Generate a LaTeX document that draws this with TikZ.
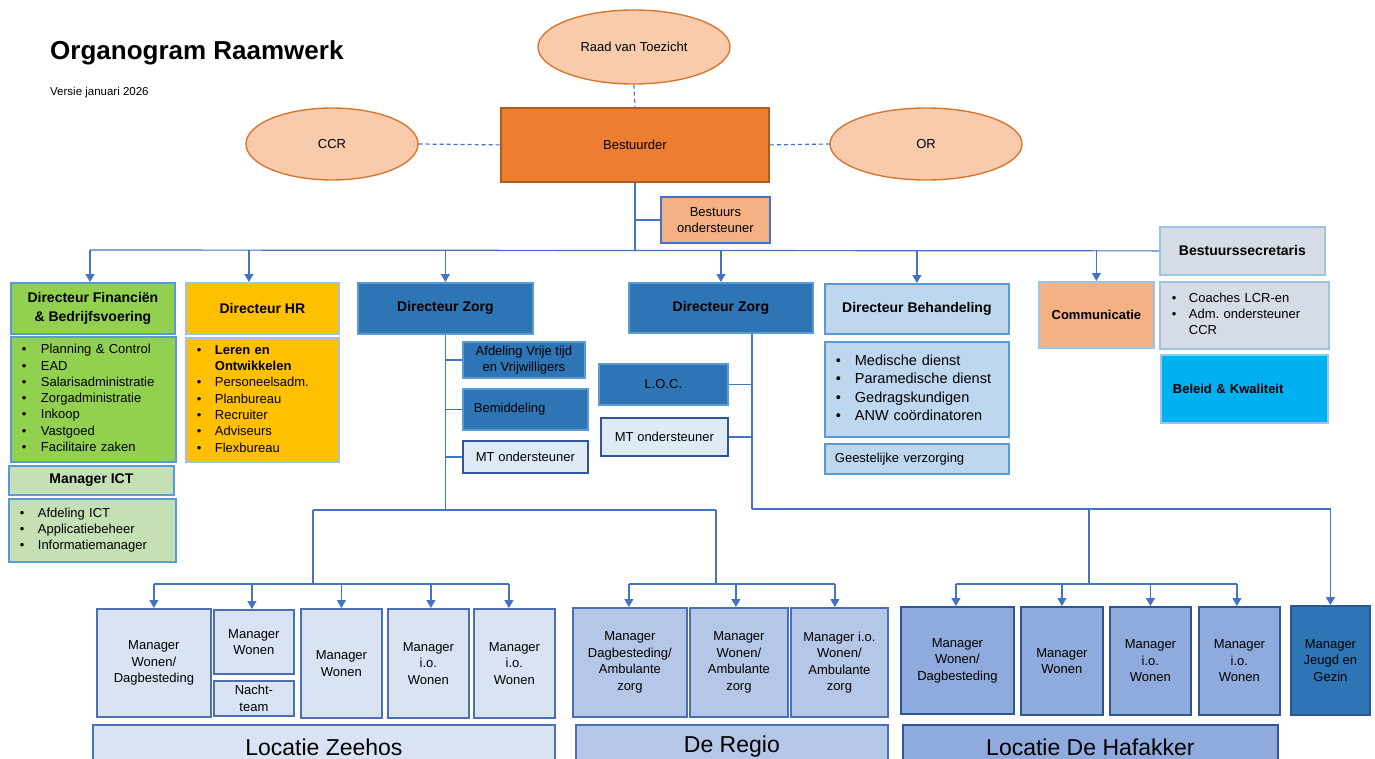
\documentclass[tikz,border=0pt]{standalone}
\usepackage{fontspec}
\setmainfont{Liberation Sans}
\usetikzlibrary{shapes.geometric,arrows.meta}
\definecolor{lineblue}{HTML}{4472C4}
\definecolor{lbone}{HTML}{5B9BD5}
\definecolor{lbtwo}{HTML}{9DC3E6}
\definecolor{fgreen}{HTML}{92D050}
\definecolor{lgreen}{HTML}{C5E0B4}
\definecolor{hrgold}{HTML}{FFC000}
\definecolor{zblue}{HTML}{2E75B6}
\definecolor{mtfill}{HTML}{DEEBF7}
\definecolor{mtline}{HTML}{2F5597}
\definecolor{behfill}{HTML}{BDD7EE}
\definecolor{grayone}{HTML}{D6DCE5}
\definecolor{cyanf}{HTML}{00B0F0}
\definecolor{lorange}{HTML}{F4B183}
\definecolor{bestfill}{HTML}{ED7D31}
\definecolor{bestline}{HTML}{AE5A21}
\definecolor{ovalfill}{HTML}{F8CBAD}
\definecolor{ovalline}{HTML}{D9772F}
\definecolor{zeefill}{HTML}{DAE3F3}
\definecolor{zeeline}{HTML}{4A6FB5}
\definecolor{regfill}{HTML}{B4C7E7}
\definecolor{hafill}{HTML}{8FAADC}
\definecolor{hafline}{HTML}{2F5597}
\newcommand{\fsz}[2]{\fontsize{#1}{#2}\selectfont}
\newcommand{\bul}{\textbullet}
\frenchspacing
\begin{document}
\frenchspacing
\begin{tikzpicture}[x=1pt,y=-1pt,
  box/.style={rectangle, line width=1.8pt, inner sep=0pt, anchor=north west, align=center, text=black, font=\fsz{13}{16.5}},
  bold/.style={font=\fsz{14}{19.5}\bfseries},
  sz/.style 2 args={minimum width=#1, minimum height=#2},
  lst/.style={box, align=left, font=\fsz{13}{16.3}},
  oval/.style={ellipse, draw=ovalline, fill=ovalfill, line width=1.4pt, inner sep=0pt, font=\fsz{13}{16}},
  conn/.style={draw=lineblue, line width=1.2pt},
  arr/.style={conn, -{Triangle[length=8pt,width=9pt]}},
  dconn/.style={conn, dash pattern=on 4pt off 3pt},
  zee/.style={box, fill=zeefill, draw=zeeline},
  reg/.style={box, fill=regfill, draw=zeeline},
  haf/.style={box, fill=hafill, draw=hafline},
  loc/.style={box, font=\fsz{23}{27}},
]
\fill[white] (0,0) rectangle (1375,758);
\clip (0,0) rectangle (1375,758);

% title
\node[anchor=base west, inner sep=0pt, font=\fsz{26}{30}\bfseries] (title) at (50,59) {Organogram Raamwerk};
\node[anchor=base west, inner sep=0pt, font=\fsz{11.5}{14}] (versie) at (50,95) {Versie januari 2026};

% top
\node[oval, minimum width=192, minimum height=74] (rvt) at (634,47) {Raad van Toezicht};
\node[oval, minimum width=172, minimum height=72] (ccr) at (332,144) {CCR};
\node[oval, minimum width=192, minimum height=72] (or) at (926,144) {OR};
\node[box, sz={268}{74}, fill=bestfill, draw=bestline] (best) at (500,107) {Bestuurder};
\node[box, sz={109}{46}, fill=lorange, draw=lineblue] (bo) at (660,196) {Bestuurs\\ondersteuner};
\draw[dconn] (rvt.south) -- (best.north);
\draw[dconn] (ccr.east) -- (best.west);
\draw[dconn] (best.east) -- (or.west);

\node[box, sz={165}{48}, fill=grayone, draw=lbtwo, bold] (bsec) at (1159,226) {Bestuurssecretaris};
\coordinate (busL) at (90,250);
\draw[conn] (best.south) -- (best.south |- busL);
\draw[conn] (best.south |- bo.west) -- (bo.west);
\draw[conn] (busL) -- (bsec.west);

% directors
\node[box, sz={164}{51}, fill=fgreen, draw=lbone, bold] (dfin) at (10,282) {Directeur Financiën\\\& Bedrijfsvoering};
\node[lst, sz={165}{125}, text width=143, fill=fgreen, draw=lbone] (lfin) at (10,336) {\begin{tabular}{@{}p{19pt}@{}l@{}}
\bul & Planning \& Control\\
\bul & EAD\\
\bul & Salarisadministratie\\
\bul & Zorgadministratie\\
\bul & Inkoop\\
\bul & Vastgoed\\
\bul & Facilitaire zaken
\end{tabular}};
\node[box, sz={165}{29}, fill=lgreen, draw=lbone, bold] (mict) at (8,465) {Manager ICT};
\node[lst, sz={167}{63}, text width=145, fill=lgreen, draw=lbone] (lict) at (8,498) {\begin{tabular}{@{}p{18pt}@{}l@{}}
\bul & Afdeling ICT\\
\bul & Applicatiebeheer\\
\bul & Informatiemanager
\end{tabular}};

\node[box, sz={153}{51}, fill=hrgold, draw=lbtwo, bold] (dhr) at (185,282) {Directeur HR};
\node[lst, sz={153}{124}, text width=131, fill=hrgold, draw=lbtwo] (lhr) at (185,337) {\begin{tabular}{@{}p{18pt}@{}l@{}}
\bul & \textbf{Leren en}\\
 & \textbf{Ontwikkelen}\\
\bul & Personeelsadm.\\
\bul & Planbureau\\
\bul & Recruiter\\
\bul & Adviseurs\\
\bul & Flexbureau
\end{tabular}};

\node[box, sz={175}{51}, fill=zblue, draw=lbone, bold] (dzone) at (357,282) {Directeur Zorg};
\node[box, sz={122}{36}, fill=zblue, draw=lbone] (afd) at (462,341) {Afdeling Vrije tijd\\en Vrijwilligers};
\node[box, sz={125}{41}, fill=zblue, draw=lbone, text width=103, align=left] (bem) at (462,388) {Bemiddeling};
\node[box, sz={125}{32}, fill=mtfill, draw=mtline] (mtone) at (462,440) {MT ondersteuner};

\node[box, sz={184}{50}, fill=zblue, draw=lbone, bold] (dztwo) at (628,282) {Directeur Zorg};
\node[box, sz={129}{41}, fill=zblue, draw=lbone] (lochq) at (598,363) {L.O.C.};
\node[box, sz={127}{38}, fill=mtfill, draw=mtline] (mttwo) at (600,417) {MT ondersteuner};

\node[box, sz={184}{50}, fill=behfill, draw=lbone, bold] (dbeh) at (824,283) {Directeur Behandeling};
\node[lst, sz={184}{95}, text width=162, fill=behfill, draw=lbone, font=\fsz{14.5}{18.3}] (lbeh) at (824,341) {\begin{tabular}{@{}p{19pt}@{}l@{}}
\bul & Medische dienst\\
\bul & Paramedische dienst\\
\bul & Gedragskundigen\\
\bul & ANW coördinatoren
\end{tabular}};
\node[box, sz={184}{30}, fill=behfill, draw=lbone, text width=164, align=left] (geest) at (824,443) {Geestelijke verzorging};

\node[box, sz={115}{66}, fill=lorange, draw=lbtwo, font=\fsz{13}{16}\bfseries] (comm) at (1038,281) {Communicatie};
\node[lst, sz={169}{67}, text width=145, fill=grayone, draw=lbtwo] (lsec) at (1159,281) {\begin{tabular}{@{}p{17pt}@{}l@{}}
\bul & Coaches LCR-en\\
\bul & Adm. ondersteuner\\
 & CCR
\end{tabular}};
\node[box, sz={167}{68}, fill=cyanf, draw=lbtwo, font=\fsz{13}{16}\bfseries, text width=143, align=left] (bk) at (1160,354) {Beleid \& Kwaliteit};

% arrows from top bus
\draw[arr] (busL) -- (dfin.north -| busL);
\draw[arr] ([xshift=-13.5pt]dhr.north |- busL) -- ([xshift=-13.5pt]dhr.north);
\draw[arr] (dzone.north |- busL) -- (dzone.north);
\draw[arr] (dztwo.north |- busL) -- (dztwo.north);
\draw[arr] (dbeh.north |- busL) -- (dbeh.north);
\draw[arr] (comm.north |- busL) -- (comm.north);

% Directeur Zorg 1 branches
\coordinate (lvlA) at (0,510);
\coordinate (lvlB) at (0,509);
\coordinate (busZ) at (0,584);
\coordinate (zl) at (313,510);
\coordinate (zr) at (716,510);
\draw[conn] (dzone.south) -- (dzone.south |- lvlA);
\draw[conn] (dzone.south |- afd.west) -- (afd.west);
\draw[conn] (dzone.south |- bem.west) -- (bem.west);
\draw[conn] (dzone.south |- mtone.west) -- (mtone.west);
\draw[conn] (zl) -- (zr);
\draw[conn] (zl) -- (zl |- busZ);
\draw[conn] (zr) -- (zr |- busZ);

% Directeur Zorg 2 branches
\coordinate (ztl) at ([xshift=31pt]dztwo.south);
\draw[conn] (ztl) -- (ztl |- lvlB);
\draw[conn] (ztl |- lochq.east) -- (lochq.east);
\draw[conn] (ztl |- mttwo.east) -- (mttwo.east);

% Zeehos
\node[zee, sz={114}{108}] (zone) at (96,608) {Manager\\Wonen/\\Dagbesteding};
\node[zee, sz={80}{64}] (ztwo) at (213,609) {Manager\\Wonen};
\node[zee, sz={80}{35}] (nacht) at (213,680) {Nacht-\\team};
\node[zee, sz={81}{109}] (zthree) at (300,608) {Manager\\Wonen};
\node[zee, sz={81}{109}] (zfour) at (387,608) {Manager\\i.o.\\Wonen};
\node[zee, sz={81}{109}] (zfive) at (473,608) {Manager\\i.o.\\Wonen};
\node[loc, fill=zeefill, draw=zeeline, sz={462}{44}] (lzee) at (92,724) {Locatie Zeehos};
\draw[conn] (zone.north |- busZ) -- ([xshift=-5.5pt]zfive.north |- busZ);
\draw[arr] (zone.north |- busZ) -- (zone.north);
\draw[arr] ([xshift=-2pt]ztwo.north |- busZ) -- ([xshift=-2pt]ztwo.north);
\draw[arr] (zthree.north |- busZ) -- (zthree.north);
\draw[arr] ([xshift=2.5pt]zfour.north |- busZ) -- ([xshift=2.5pt]zfour.north);
\draw[arr] ([xshift=-5.5pt]zfive.north |- busZ) -- ([xshift=-5.5pt]zfive.north);

% Regio
\node[reg, sz={114}{109}] (rone) at (572,607) {Manager\\Dagbesteding/\\Ambulante\\zorg};
\node[reg, sz={98}{109}] (rtwo) at (689,607) {Manager\\Wonen/\\Ambulante\\zorg};
\node[reg, sz={97}{109}] (rthree) at (790,607) {Manager i.o.\\Wonen/\\Ambulante\\zorg};
\node[loc, fill=regfill, draw=zeeline, sz={312}{44}] (lreg) at (575,724) {De Regio};
\draw[conn] ([xshift=-1pt]rone.north |- busZ) -- ([xshift=-4.5pt]rthree.north |- busZ);
\draw[arr] ([xshift=-1pt]rone.north |- busZ) -- ([xshift=-1pt]rone.north);
\draw[arr] ([xshift=-3pt]rtwo.north |- busZ) -- ([xshift=-3pt]rtwo.north);
\draw[arr] ([xshift=-4.5pt]rthree.north |- busZ) -- ([xshift=-4.5pt]rthree.north);

% Hafakker
\node[haf, sz={113}{107}] (hone) at (900,606) {Manager\\Wonen/\\Dagbesteding};
\node[haf, sz={82}{108}] (htwo) at (1020,606) {Manager\\Wonen};
\node[haf, sz={81}{108}] (hthree) at (1109,606) {Manager\\i.o.\\Wonen};
\node[haf, sz={81}{108}] (hfour) at (1198,606) {Manager\\i.o.\\Wonen};
\node[box, fill=zblue, draw=hafline, sz={79}{109}] (jeugd) at (1290,605) {Manager\\Jeugd en\\Gezin};
\node[loc, fill=hafill, draw=hafline, sz={375}{44}] (lhaf) at (902,724) {Locatie De Hafakker};
\coordinate (hv) at (1089,509);
\draw[arr] (ztl |- lvlB) -- (jeugd.north |- lvlB) -- (jeugd.north);
\draw[conn] (hv) -- (hv |- busZ);
\draw[conn] ([xshift=-1.5pt]hone.north |- busZ) -- ([xshift=-2.5pt]hfour.north |- busZ);
\draw[arr] ([xshift=-1.5pt]hone.north |- busZ) -- ([xshift=-1.5pt]hone.north);
\draw[arr] (htwo.north |- busZ) -- (htwo.north);
\draw[arr] (hthree.north |- busZ) -- (hthree.north);
\draw[arr] ([xshift=-2.5pt]hfour.north |- busZ) -- ([xshift=-2.5pt]hfour.north);
\end{tikzpicture}
\end{document}
